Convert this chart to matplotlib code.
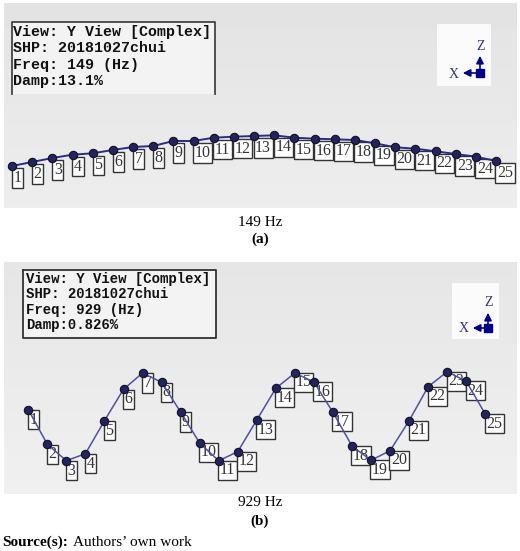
import numpy as np
import matplotlib
matplotlib.use("Agg")
import matplotlib.pyplot as plt

W, H = 520, 551

# node numbers and height of each node above the panel bottom
nodes = list(range(1, 26))
amp_149 = [42, 46, 50, 53.3, 54.7, 58, 61, 62, 67, 67, 70.3, 71.3, 72,
           72.7, 70.3, 69.3, 68.7, 68, 64.7, 60.7, 59.3, 56.7, 54, 51.3, 47]
amp_929 = [84.3, 49.7, 33.3, 40.3, 73.3, 104.7, 121, 111.7, 82, 51, 33.3, 42.3, 74,
           105.7, 121, 112, 81.7, 48, 33.7, 43.3, 73.3, 107.3, 122.3, 112.7, 80]

info_149 = ["View: Y View [Complex]", "SHP: 20181027chui", "Freq: 149 (Hz)", "Damp:13.1%"]
info_929 = ["View: Y View [Complex]", "SHP: 20181027chui", "Freq: 929 (Hz)", "Damp:0.826%"]

fig = plt.figure(figsize=(W / 100, H / 100), dpi=100, facecolor="white")


def panel(top, bottom, x1, dx, amp, line_col, line_w, off1, off2, grad):
    # axes placed by pixels, x axis is the node number
    ax = fig.add_axes([4 / W, 1 - bottom / H, 513 / W, (bottom - top) / H])
    ax.axis("off")
    ax.imshow(np.linspace(grad[0], grad[1], 64).reshape(-1, 1), cmap="gray", vmin=0, vmax=1,
              extent=[0, 1, 0, 1], transform=ax.transAxes, aspect="auto", zorder=0)
    ax.set_xlim(1 + (4 - x1) / dx, 1 + (517 - x1) / dx)
    ax.set_ylim(0, bottom - top)
    for n, a in zip(nodes, amp):
        off = off1 if n < 10 else off2
        ax.annotate(str(n), (n, a), xytext=off, textcoords="offset pixels",
                    ha="center", va="center_baseline", fontsize=11.5, color="#333333",
                    family="Liberation Serif", zorder=2,
                    bbox=dict(boxstyle="square,pad=0.1", fc="white", ec="#333333", lw=1))
    ax.plot(nodes, amp, color=line_col, lw=line_w, zorder=3)
    ax.plot(nodes, amp, ls="", marker="o", ms=6, mfc="#23235f", mec="#111122", mew=0.8, zorder=4)
    return ax


panel(3, 208, 12, 20.17, amp_149, "#2a2a90", 1.4, (5.5, -10), (9, -10), (0.89, 0.93))
panel(262, 494, 28.3, 19.04, amp_929, "#5050a5", 1.1, (5, -8), (9, -7.5), (0.90, 0.94))

# page layer in pixel coordinates: info boxes, triads, captions
pg = fig.add_axes([0, 0, 1, 1])
pg.set_xlim(0, W)
pg.set_ylim(H, 0)
pg.axis("off")
pg.patch.set_alpha(0)


def info_box(x0, y0, x1, y1, lines, tx, ty, step, size, closed):
    pg.fill_between([x0, x1], y0, y1, color="#f3f3f3", lw=0)
    if closed:
        pg.plot([x0, x1, x1, x0, x0], [y0, y0, y1, y1, y0], color="#333333", lw=1.3)
    else:
        pg.plot([x0, x0, x1, x1], [y1, y0, y0, y1], color="#444444", lw=1.3)
    for i, s in enumerate(lines):
        pg.text(tx, ty + i * step, s, family="Liberation Mono", weight="bold", fontsize=size,
                color="#111111", ha="left", va="center")


def triad(x0, y0, x1, y1, ox, oy, ztip, xtip):
    navy = "#00008b"
    pg.fill_between([x0, x1], y0, y1, color="#fbfbfb", lw=0)
    pg.annotate("", (ox, ztip), (ox, oy), arrowprops=dict(arrowstyle="-|>", color=navy, lw=1.2, mutation_scale=11))
    pg.annotate("", (xtip, oy), (ox, oy), arrowprops=dict(arrowstyle="-|>", color=navy, lw=1.2, mutation_scale=11))
    pg.plot([ox], [oy], marker="s", ms=5.5, color=navy)
    pg.text(ox + 1, ztip - 7, "Z", family="Liberation Serif", fontsize=10, color="#333377", ha="center", va="center")
    pg.text(xtip - 6, oy + 1, "X", family="Liberation Serif", fontsize=10, color="#333377", ha="center", va="center")


info_box(11.5, 21.5, 215, 94, info_149, 13, 32, 16.3, 10.8, False)
info_box(23, 269.5, 216, 338, info_929, 26, 279, 15.3, 10.1, True)
triad(437, 24, 491, 86, 480, 73, 53, 460)
triad(452, 283, 499, 339, 488, 328, 310, 470)

serif = "Liberation Serif"
pg.text(260, 222, "149 Hz", family=serif, fontsize=11, ha="center", va="center", color="black")
pg.text(260, 239, "(a)", family=serif, fontsize=11, weight="bold", ha="center", va="center", color="black")
pg.text(260, 503, "929 Hz", family=serif, fontsize=11, ha="center", va="center", color="black")
pg.text(260, 521, "(b)", family=serif, fontsize=11, weight="bold", ha="center", va="center", color="black")
pg.text(2, 542, "Source(s):", family=serif, fontsize=11, weight="bold", ha="left", va="center", color="black")
pg.text(73, 542, "Authors’ own work", family=serif, fontsize=11, ha="left", va="center", color="black")

fig.savefig("out.png", dpi=100)
